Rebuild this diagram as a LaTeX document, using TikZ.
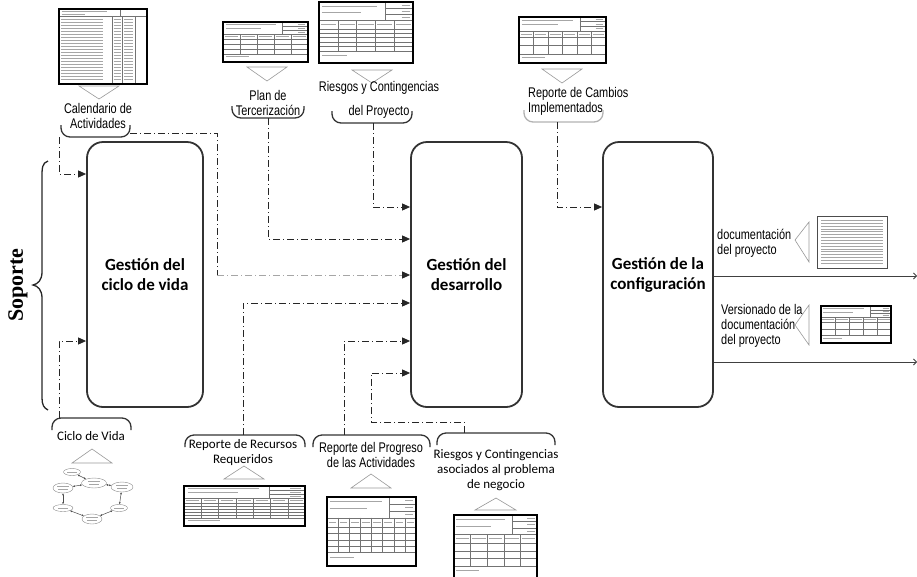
\documentclass[tikz,border=0pt]{standalone}
\usepackage{fontspec}
\setmainfont{Liberation Serif}
\newfontfamily\narrowsans[FakeStretch=0.78]{Liberation Sans}
\newfontfamily\calibri{Carlito}
\usetikzlibrary{arrows.meta,shapes.geometric}

% form-like document: x, y, width, height, inner columns, data rows
\newcommand{\formdoc}[6]{%
  \begin{scope}[shift={(#1,#2)},x=#3pt,y=-#4pt]
    \fill[white] (0,0) rectangle (1,1);
    \draw[txt] (0.03,0.07) -- (0.62,0.07);
    \draw[txt] (0.03,0.17) -- (0.45,0.17);
    \draw[grid] (0.7,0) -- (0.7,0.3);
    \draw[grid] (0.7,0.1) -- (1,0.1);
    \draw[grid] (0.7,0.2) -- (1,0.2);
    \draw[txt] (0.88,0.05) -- (0.97,0.05);
    \draw[txt] (0.88,0.15) -- (0.97,0.15);
    \draw[txt] (0.88,0.25) -- (0.97,0.25);
    \draw[grid] (0,0.3) -- (1,0.3);
    \draw[grid] (0,0.44) -- (1,0.44);
    \foreach \i in {1,...,#5}
      \draw[grid] ({\i/(#5+1)},0.3) -- ({\i/(#5+1)},0.8);
    \foreach \i in {0,...,#5}
      \draw[txt] ({\i/(#5+1)+0.02},0.37) -- ({(\i+1)/(#5+1)-0.02},0.37);
    \foreach \j in {1,...,#6}
      \draw[grid] (0,{0.44+\j*0.36/(#6+1)}) -- (1,{0.44+\j*0.36/(#6+1)});
    \draw[grid] (0,0.8) -- (1,0.8);
    \draw[txt] (0.03,0.87) -- (0.3,0.87);
    \draw[docframe] (0,0) rectangle (1,1);
  \end{scope}}

% long activity list: x, y, width, height
\newcommand{\listdoc}[4]{%
  \begin{scope}[shift={(#1,#2)},x=#3pt,y=-#4pt]
    \fill[white] (0,0) rectangle (1,1);
    \draw[txt] (0.03,0.03) -- (0.55,0.03);
    \draw[txt] (0.03,0.07) -- (0.3,0.07);
    \draw[grid] (0.7,0) -- (0.7,0.1);
    \draw[grid] (0,0.1) -- (1,0.1);
    \foreach \cx in {0.6,0.72,0.86} \draw[grid] (\cx,0.1) -- (\cx,1);
    \foreach \yy in {0.14,0.18,...,0.97} {
      \draw[txt,line width=0.45pt] (0.02,\yy) -- (0.5,\yy);
      \draw[txt,line width=0.45pt] (0.62,\yy) -- (0.7,\yy);
      \draw[txt,line width=0.45pt] (0.74,\yy) -- (0.84,\yy);
    }
    \draw[docframe] (0,0) rectangle (1,1);
  \end{scope}}

% page of running text: x, y, width, height
\newcommand{\textdoc}[4]{%
  \begin{scope}[shift={(#1,#2)},x=#3pt,y=-#4pt]
    \fill[white] (0,0) rectangle (1,1);
    \foreach \yy in {0.08,0.135,...,0.93}
      \draw[txt,line width=0.45pt] (0.06,\yy) -- (0.94,\yy);
    \draw[black!70,line width=0.8pt] (0,0) rectangle (1,1);
  \end{scope}}

\begin{document}
\begin{tikzpicture}[x=1pt,y=-1pt,
  procbox/.style={draw=black!80, line width=1.8pt, rounded corners=16pt,
    font=\calibri\bfseries\fontsize{17}{20}\selectfont, align=center, inner sep=0},
  flow/.style={draw=black!85, line width=0.9pt,
    dash pattern=on 7pt off 3pt on 1pt off 3pt,
    -{Triangle[length=8pt,width=7pt]}},
  flowlight/.style={flow, draw=black!35, -{Triangle[length=8pt,width=7pt,black!85]}},
  outflow/.style={draw=black!75, line width=0.8pt, -{Straight Barb[length=3pt,width=6pt]}},
  bubble/.style={draw=black!80, line width=1.3pt, rounded corners=9pt},
  pointer/.style={draw=black!40, line width=0.6pt, fill=white},
  lblnarrow/.style={font=\narrowsans\fontsize{14}{15}\selectfont, align=center, inner sep=0},
  lblcal/.style={font=\calibri\fontsize{13}{15}\selectfont, align=center, inner sep=0},
  docframe/.style={draw=black, line width=1.6pt},
  grid/.style={draw=black!55, line width=0.3pt},
  txt/.style={draw=black!35, line width=0.7pt},
  mini/.style={ellipse, draw=black!45, line width=0.4pt, inner sep=0, fill=white},
  minilink/.style={draw=black!70, line width=0.5pt,
    {Latex[length=2pt,width=2pt]}-{Latex[length=2pt,width=2pt]}}
]
\useasboundingbox (0,0) rectangle (917,576);

% ---- the three processes
\node[procbox, minimum width=116pt, minimum height=265pt] (life) at (145,274.5)
  {Gestión del\\ciclo de vida};
\node[procbox, minimum width=111pt, minimum height=265pt] (dev) at (466.5,274.5)
  {Gestión del\\desarrollo};
\node[procbox, minimum width=110pt, minimum height=265pt] (conf) at (658,274.5)
  {Gestión de la\\configuración};

% ---- support brace
\draw[line width=1.3pt, black!85] (48,161) .. controls (42,163) and (42,168) .. (42,178)
  -- (42,272) .. controls (42,280) and (38,284) .. (33,285)
  .. controls (38,286) and (42,290) .. (42,298)
  -- (42,398) .. controls (42,405) and (44,408) .. (48,410);
\node[rotate=90, font=\bfseries\fontsize{22}{24}\selectfont, inner sep=0] (sop) at (18,285) {Soporte};

% ---- top documents
\listdoc{59}{9}{88}{75}
\draw[pointer] (79,86) -- (119,86) -- (99,99) -- cycle;
\node[lblnarrow] (cal) at (98,115.5) {Calendario de\\Actividades};
\draw[bubble] (61,125) -- (61,137) -- (130,137) -- (130,125);
\coordinate (calA) at (59,137);
\coordinate (calB) at (130,133);
\coordinate (calturn) at (217,133);
\coordinate (calturn2) at (217,275);

\formdoc{223}{22}{85}{40}{4}{2}
\draw[pointer] (247,67) -- (287,67) -- (267,81) -- cycle;
\node[lblnarrow] (plan) at (268,102.5) {Plan de\\Tercerización};
\draw[bubble] (232,106) -- (232,118) -- (304,118) -- (304,106);
\coordinate (planA) at (268,118);

\formdoc{319}{2}{94}{61}{4}{4}
\draw[pointer] (352,70) -- (392,70) -- (372,83) -- cycle;
\node[lblnarrow] (rp) at (379,100) {Riesgos y Contingencias\\[9pt]del Proyecto};
\draw[bubble] (332,111) -- (332,123) -- (412,123) -- (412,111);
\coordinate (rpA) at (373,123);

\formdoc{519}{17}{87}{46}{5}{1}
\draw[pointer] (542,69) -- (582,69) -- (562,83) -- cycle;
\node[lblnarrow, align=left, anchor=west] (camb) at (528,101.5) {Reporte de Cambios\\Implementados};
\draw[bubble, draw=black!30] (524,110) -- (524,122) -- (603,122) -- (603,110);
\coordinate (cambA) at (557,122);

% ---- bottom documents
\draw[bubble] (52,430) -- (52,418) -- (131,418) -- (131,430);
\node[lblcal] (ciclo) at (91,436) {Ciclo de Vida};
\draw[pointer] (72,463) -- (112,463) -- (92,449) -- cycle;
\coordinate (cicloA) at (59,418);

\node[mini, minimum width=17pt, minimum height=7pt] (c1) at (72,472) {};
\node[mini, minimum width=25pt, minimum height=10pt] (c2) at (94,483) {};
\node[mini, minimum width=22pt, minimum height=10pt] (c3) at (122,487) {};
\node[mini, minimum width=20pt, minimum height=10pt] (c4) at (63,488) {};
\node[mini, minimum width=20pt, minimum height=7pt] (c5) at (63,508) {};
\node[mini, minimum width=17pt, minimum height=7pt] (c6) at (119,508) {};
\node[mini, minimum width=20pt, minimum height=10pt] (c7) at (92,519) {};
\foreach \c in {c1,c5,c6} \draw[txt,line width=0.4pt] ([xshift=-5pt]\c.center) -- ([xshift=5pt]\c.center);
\foreach \c in {c2,c3,c4,c7} {
  \draw[txt,line width=0.4pt] ([xshift=-6pt,yshift=1.5pt]\c.center) -- ([xshift=6pt,yshift=1.5pt]\c.center);
  \draw[txt,line width=0.4pt] ([xshift=-5pt,yshift=-1.5pt]\c.center) -- ([xshift=5pt,yshift=-1.5pt]\c.center);
}
\draw[minilink] (c1) -- (c2);
\draw[minilink] (c2) -- (c3);
\draw[minilink] (c2) -- (c4);
\draw[minilink] (c4) -- (c5);
\draw[minilink] (c5) -- (c7);
\draw[minilink] (c7) -- (c6);
\draw[minilink] (c6) -- (c3);

\draw[bubble] (185,447) -- (185,435) -- (305,435) -- (305,447);
\node[lblcal] (recu) at (243,453) {Reporte de Recursos\\Requeridos};
\draw[pointer] (224,479) -- (264,479) -- (244,466) -- cycle;
\formdoc{184}{486}{121}{40}{6}{4}
\coordinate (recuA) at (243,435);

\draw[bubble] (313,447) -- (313,435) -- (430,435) -- (430,447);
\node[lblnarrow] (prog) at (371,454.5) {Reporte del Progreso\\de las Actividades};
\draw[pointer] (351,488) -- (391,488) -- (371,474) -- cycle;
\formdoc{327}{497}{89}{69}{7}{3}
\coordinate (progA) at (344,435);

\draw[bubble] (437,445) -- (437,433) -- (555,433) -- (555,445);
\node[lblcal] (rasoc) at (496,470) {Riesgos y Contingencias\\asociados al problema\\de negocio};
\draw[pointer] (475,510) -- (516,510) -- (496,498) -- cycle;
\formdoc{454}{515}{83}{64}{4}{2}
\coordinate (rasocA) at (464,433);
\coordinate (rasturn1) at (464,422);
\coordinate (rasturn2) at (371,422);

% ---- documents on the right
\textdoc{817}{216}{70}{52}
\draw[pointer] (809,222) -- (809,262) -- (795,240) -- cycle;
\node[lblnarrow, align=left, anchor=west] (docu) at (717,243.5) {documentación\\del proyecto};

\formdoc{821}{306}{70}{37}{4}{1}
\draw[pointer] (809,305) -- (809,345) -- (795,325) -- cycle;
\node[lblnarrow, align=left, anchor=west] (vers) at (721,326) {Versionado de la\\documentación\\del proyecto};

% ---- connectors
\draw[flow] (calA) |- ([yshift=100.5pt]life.west);
\draw[flow] (cicloA) |- ([yshift=-66.5pt]life.west);
\draw[flow, -] (calB) -- (calturn) -- (calturn2);
\draw[flowlight] (calturn2) -- ([yshift=-0.5pt]dev.west);
\draw[flow] (rpA) |- ([yshift=67.5pt]dev.west);
\draw[flow] (planA) |- ([yshift=35.5pt]dev.west);
\draw[flow] (recuA) |- ([yshift=-28.5pt]dev.west);
\draw[flow] (progA) |- ([yshift=-66.5pt]dev.west);
\draw[flow] (rasocA) -- (rasturn1) -- (rasturn2) |- ([yshift=-98.5pt]dev.west);
\draw[flow] (cambA) |- ([yshift=67.5pt]conf.west);

\coordinate (out1) at (917,276);
\coordinate (out2) at (917,362);
\draw[outflow] ([yshift=-1.5pt]conf.east) -- (out1);
\draw[outflow] ([yshift=-87.5pt]conf.east) -- (out2);
\end{tikzpicture}
\end{document}
